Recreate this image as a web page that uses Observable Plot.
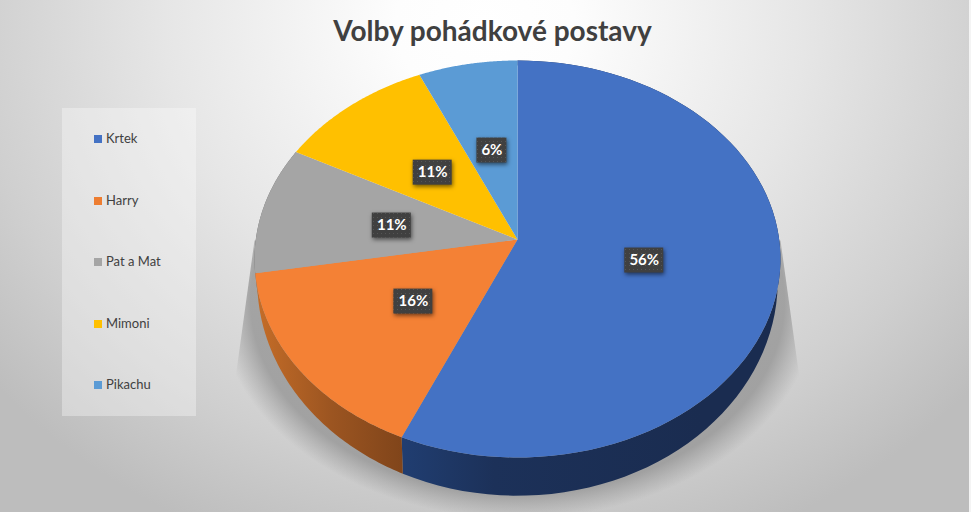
<!DOCTYPE html>
<html lang="cs">
<head>
<meta charset="utf-8">
<script src="https://cdn.jsdelivr.net/npm/d3@7"></script>
<script src="https://cdn.jsdelivr.net/npm/@observablehq/plot@0.6"></script>
<style>
  html, body { margin: 0; padding: 0; background: #fff; }
  #chart { position: relative; width: 971px; height: 512px; overflow: hidden; font-family: Lato, "Noto Sans", sans-serif;
    background: radial-gradient(ellipse 640px 560px at 485px 25px, #ffffff 0%, #fdfdfd 14%, #e6e6e6 50%, #cfcfcf 80%, #bdbdbd 100%); }
  #chart svg { position: absolute; left: 0; top: 0; background: transparent; }
  #title { position: absolute; left: 0; width: 985px; top: 12px; text-align: center; font-size: 28px; font-weight: 700; color: #404040; line-height: 36px; }
  #legend { position: absolute; left: 62px; top: 108px; width: 134px; height: 308px; background: rgba(255,255,255,0.33); }
  #legend div { position: absolute; left: 32px; font-size: 13px; line-height: 16px; color: #404040; white-space: nowrap; padding-left: 12px; }
  #legend i { position: absolute; left: 0; top: 5px; width: 8px; height: 8px; }
  #edge { position: absolute; right: 0; top: 0; width: 2.5px; height: 512px; background: #f4f4f4; }
</style>
</head>
<body>
<div id="chart">
  <div id="legend"></div>
  <div id="title">Volby pohádkové postavy</div>
  <div id="edge"></div>
</div>
<script>
// Data
const categories = ["Krtek", "Harry", "Pat a Mat", "Mimoni", "Pikachu"];
const shares = [56.6, 15.7, 10.4, 10.6, 6.7];       // slice sizes as drawn
const percentLabels = ["56%", "16%", "11%", "11%", "6%"];
const topColors = ["#4472C4", "#F48135", "#A5A5A5", "#FFC000", "#5B9BD5"];
const legendColors = ["#4472C4", "#ED7D31", "#A5A5A5", "#FFC000", "#5B9BD5"];

// Layout of the tilted disc
const cx = 517, cy = 239, a = 261.7, b = 196.6, p = 0.0983;
const a2 = 259, b2 = 213, cy2 = 259;
const labelRadius = 0.49;

const total = d3.sum(shares);
const cum = d3.cumsum(shares).map(v => v / total);
const starts = [0, ...cum.slice(0, -1)];

function rim(f, r = 1, low = false) {
  const t = f * 2 * Math.PI;
  const X = r * Math.sin(t), Y = r * Math.cos(t), w = 1 + p * Y;
  if (!low) return {x: X / w, y: Y / w};
  return {x: (X / w) * a2 / a, y: (Y / w) * b2 / b + (cy - cy2) / b};
}
const sampled = (f0, f1) => d3.range(0, 81).map(i => f0 + (f1 - f0) * i / 80);

const faces = categories.flatMap((name, i) => [
  {name, x: 0, y: 0},
  ...sampled(starts[i], cum[i]).map(f => ({name, ...rim(f)}))
]);
const wall = i => [
  ...sampled(starts[i], cum[i]).map(f => rim(f)),
  ...sampled(starts[i], cum[i]).reverse().map(f => rim(f, 1, true))
];

const py = v => (cy - v) / b;
const shadowShape = [[-263, 240], [-283, 385], [-283, 552], [283, 552], [283, 385], [263, 240]]
  .map(([dx, yPx]) => ({x: dx / a, y: py(yPx)}));

const labelData = categories.map((name, i) => {
  const c = rim((starts[i] + cum[i]) / 2, labelRadius);
  const half = (percentLabels[i].length === 2 ? 15 : 19.5) / a, vh = 12.5 / b;
  const y = c.y - 1 / b;
  return {name, text: percentLabels[i], x: c.x, y, x1: c.x - half, x2: c.x + half, y1: y - vh, y2: y + vh};
});

const svg = Plot.plot({
  width: 971, height: 512,
  marginTop: 0, marginRight: 0, marginBottom: 0, marginLeft: 0,
  style: {background: "transparent"},
  x: {axis: null, domain: [-1, 1], range: [cx - a, cx + a]},
  y: {axis: null, domain: [-1, 1], range: [cy + b, cy - b]},
  color: {domain: categories, range: topColors},
  marks: [
    Plot.line(shadowShape, {x: "x", y: "y", fill: "url(#shadow)", stroke: "none"}),
    Plot.line(wall(2), {x: "x", y: "y", fill: "#6b6b6b", stroke: "none"}),
    Plot.line(wall(0), {x: "x", y: "y", fill: "url(#wallBlue)", stroke: "none"}),
    Plot.line(wall(1), {x: "x", y: "y", fill: "url(#wallOrange)", stroke: "none"}),
    Plot.line(faces, {x: "x", y: "y", z: "name", fill: "name", stroke: "none"}),
    Plot.rect(labelData, {x1: "x1", x2: "x2", y1: "y1", y2: "y2", fill: "url(#labelDots)",
      imageFilter: "drop-shadow(1px 2px 2px rgba(0,0,0,0.55))"}),
    Plot.text(labelData, {x: "x", y: "y", text: "text", fill: "white", fontSize: 15, fontWeight: 700,
      fontFamily: "Lato, 'Noto Sans', sans-serif"})
  ]
});

const defs = d3.select(svg).append("defs");
function linear(id, x1, x2, stops) {
  const g = defs.append("linearGradient").attr("id", id).attr("gradientUnits", "userSpaceOnUse")
    .attr("x1", x1).attr("x2", x2).attr("y1", 0).attr("y2", 0);
  stops.forEach(([o, c]) => g.append("stop").attr("offset", o).attr("stop-color", c));
}
linear("wallOrange", 255, 405, [[0, "#C56D28"], [0.5, "#9C5521"], [1, "#7F441A"]]);
linear("wallBlue", 405, 700, [[0, "#203D70"], [0.3, "#1C3159"], [1, "#1A2C50"]]);
const rg = defs.append("radialGradient").attr("id", "shadow").attr("gradientUnits", "userSpaceOnUse")
  .attr("cx", 0).attr("cy", 0).attr("r", 1)
  .attr("gradientTransform", `translate(${cx},300) scale(300,218)`);
[[0, 0.85], [0.89, 0.85], [0.94, 0.45], [1.0, 0]].forEach(([o, v]) =>
  rg.append("stop").attr("offset", o).attr("stop-color", "#999999").attr("stop-opacity", v));
const pat = defs.append("pattern").attr("id", "labelDots").attr("patternUnits", "userSpaceOnUse")
  .attr("width", 4).attr("height", 4);
pat.append("rect").attr("width", 4).attr("height", 4).attr("fill", "#404040");
pat.append("rect").attr("x", 1).attr("y", 1).attr("width", 1).attr("height", 1).attr("fill", "#555555");

document.getElementById("chart").prepend(svg);

// Legend
const legend = d3.select("#legend");
categories.forEach((name, i) => {
  const row = legend.append("div").style("top", `${22 + i * 61.5}px`);
  row.append("i").style("background", legendColors[i]);
  row.append("span").text(name);
});
</script>
</body>
</html>
